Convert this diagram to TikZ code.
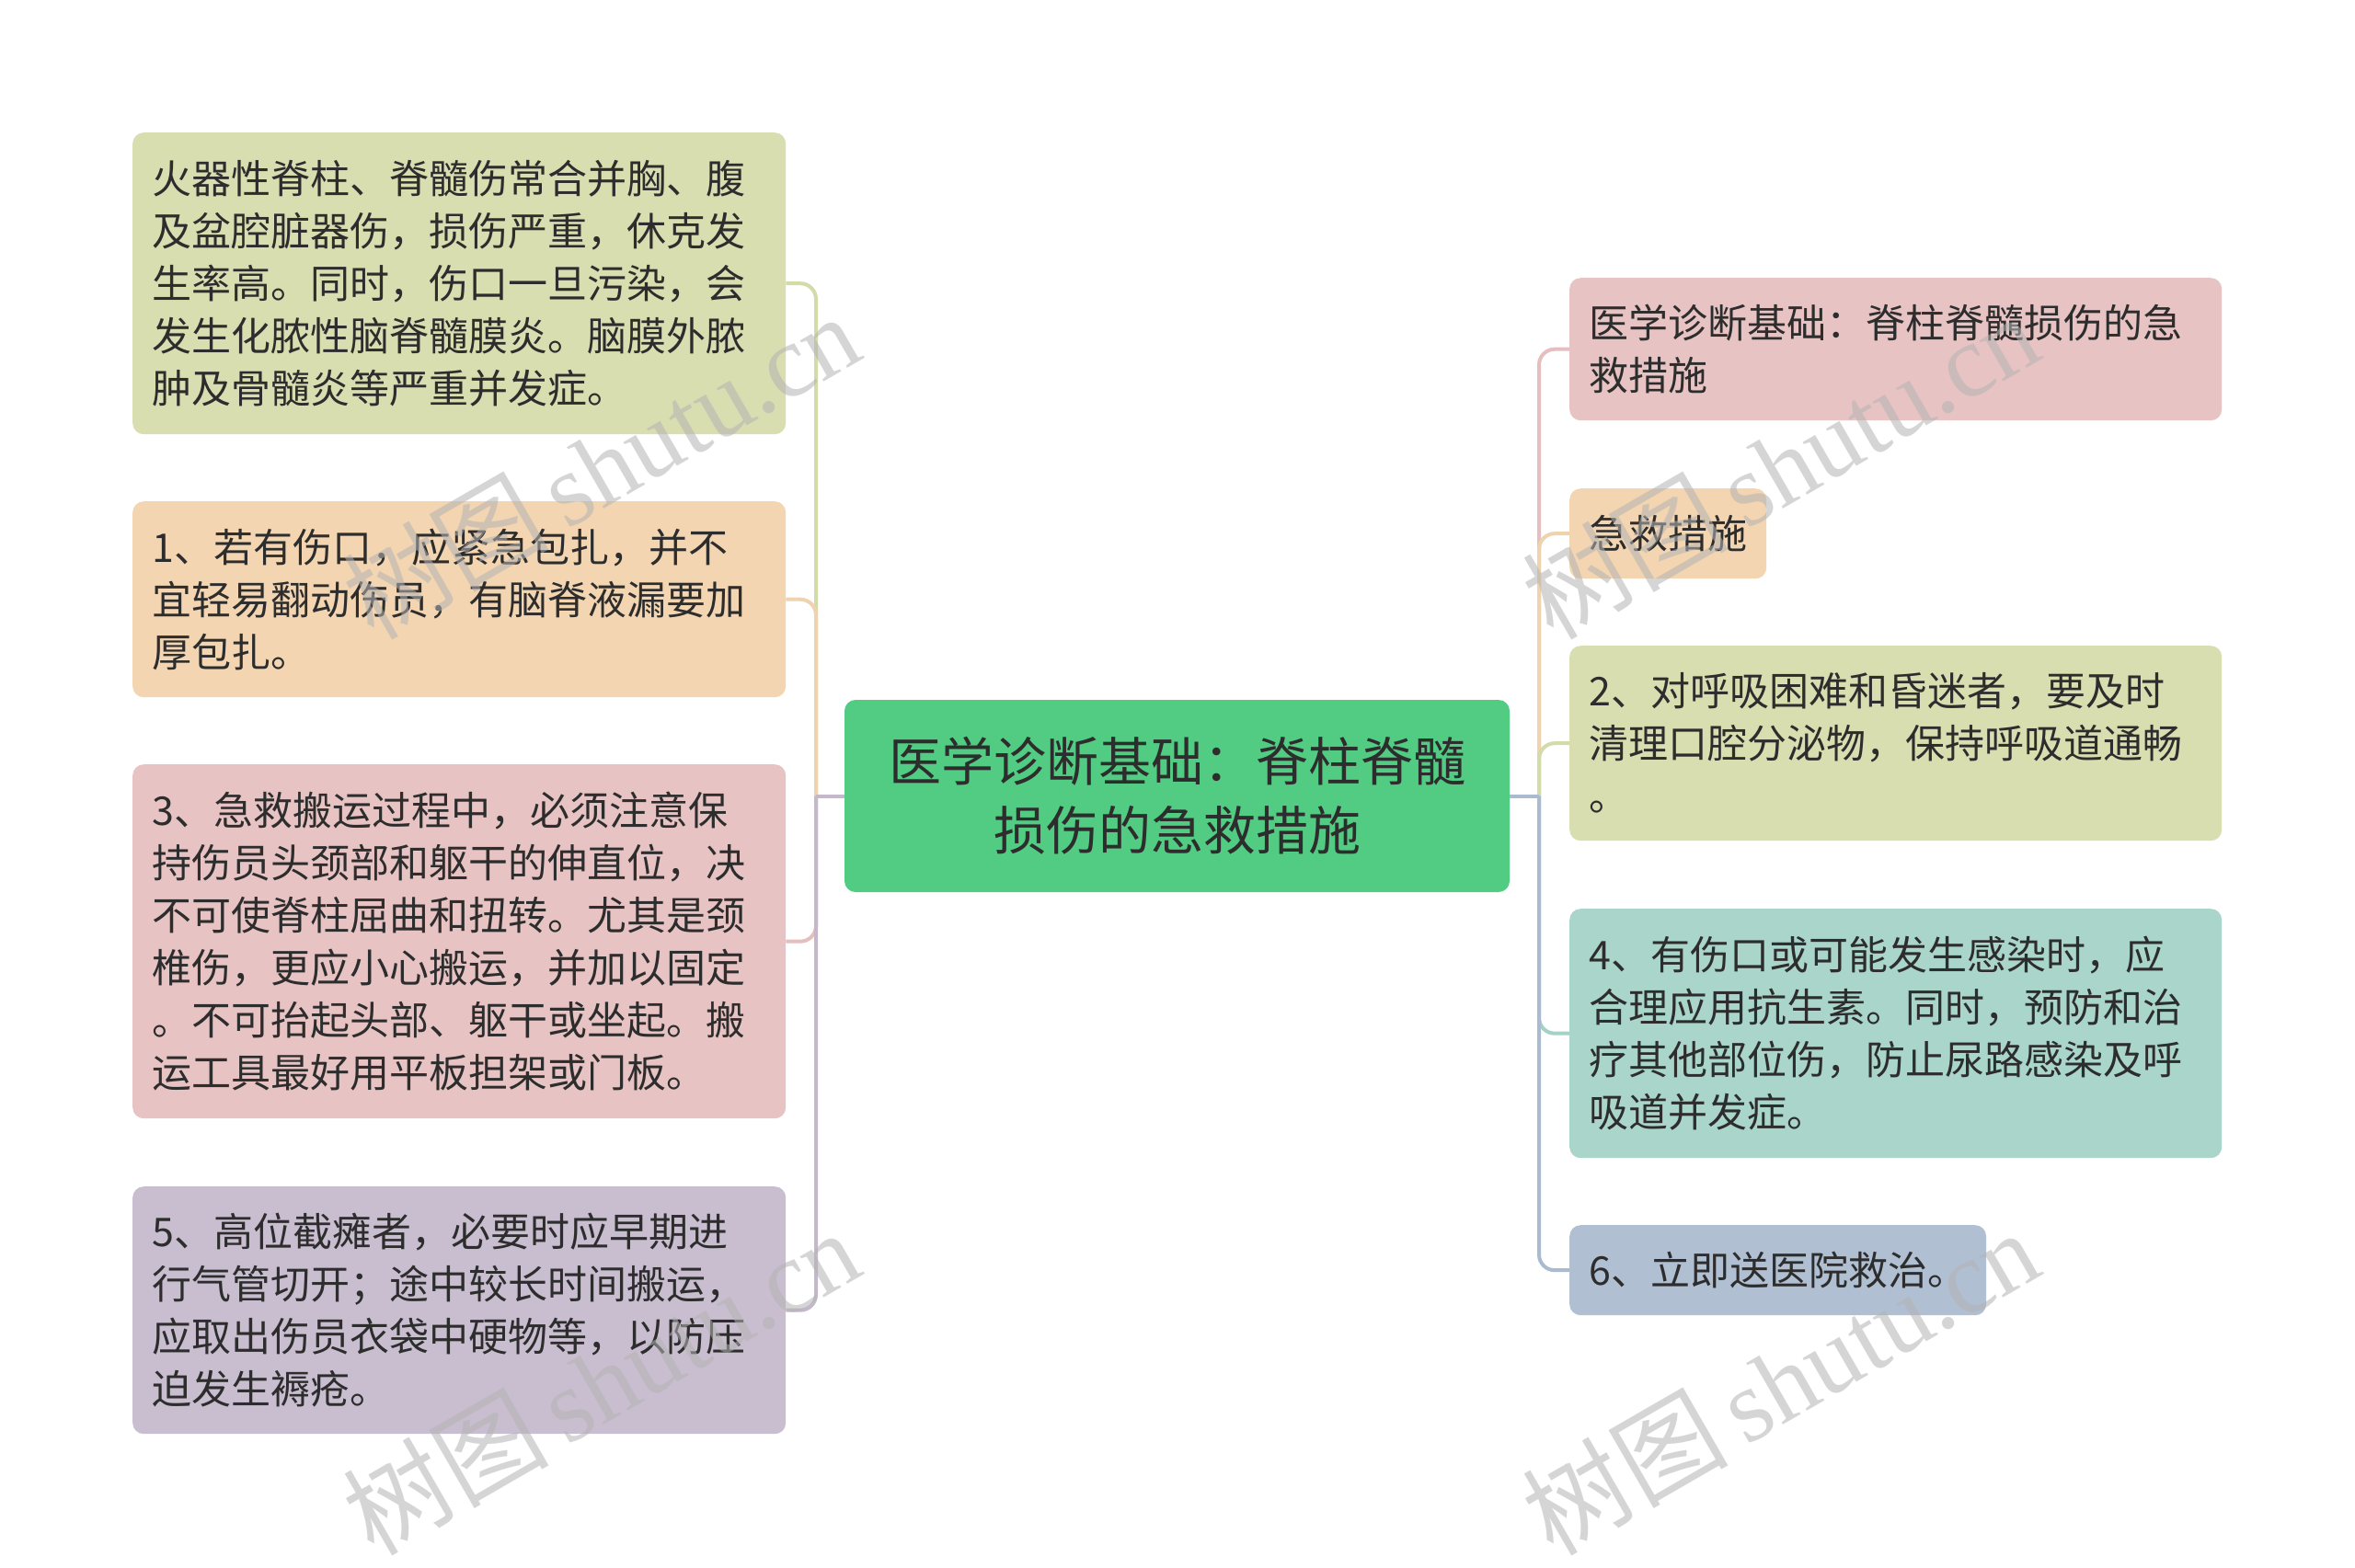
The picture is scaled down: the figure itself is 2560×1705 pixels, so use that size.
\documentclass[tikz,border=0pt]{standalone}
\usepackage{fontspec}
\newfontfamily\cjk{Noto Sans CJK SC}
\newfontfamily\wmserif{Liberation Serif}
\definecolor{olivef}{HTML}{D9DEB1}
\definecolor{olivel}{HTML}{D3DBA9}
\definecolor{peachf}{HTML}{F3D5B1}
\definecolor{peachl}{HTML}{EFD2AE}
\definecolor{pinkf}{HTML}{E8C3C3}
\definecolor{pinkl}{HTML}{E5BFC0}
\definecolor{lavf}{HTML}{C9BED0}
\definecolor{lavl}{HTML}{C4B8CB}
\definecolor{greenf}{HTML}{52CC82}
\definecolor{tealf}{HTML}{A9D5CB}
\definecolor{teall}{HTML}{A5D2C7}
\definecolor{bluef}{HTML}{B0BFD2}
\definecolor{bluel}{HTML}{ABBBCF}
\definecolor{txt}{HTML}{2D2D2D}
\definecolor{wmgray}{HTML}{B4B4B4}
\tikzset{
  box/.style={rounded corners=12pt, align=left, inner xsep=21pt, inner ysep=0pt,
    font=\cjk\fontsize{43}{57}\selectfont, text=txt, anchor=north west},
  rootbox/.style={rounded corners=12pt, align=center, inner xsep=21pt, inner ysep=0pt,
    font=\cjk\fontsize{57}{75}\selectfont, text=txt, fill=greenf,
    minimum width=723pt, minimum height=209pt, text width=681pt},
  conn/.style={line width=4pt},
  branch/.style={line width=4pt, rounded corners=17pt},
  wm/.style={text=wmgray, opacity=0.55, rotate=30, font=\fontsize{112}{112}\selectfont}
}
\begin{document}
\begin{tikzpicture}[x=1pt,y=-1pt]
\useasboundingbox (0,0) rectangle (2560,1705);
\fill[white] (0,0) rectangle (2560,1705);

% root
\node[rootbox] (root) at (1279.5,865.5) {医学诊断基础：脊柱脊髓\\损伤的急救措施};

% left children
\node[box, fill=olivef, text width=668pt, minimum height=328pt] (b1) at (144,144)
  {火器性脊柱、脊髓伤常合并胸、腹\\及盆腔脏器伤，损伤严重，休克发\\生率高。同时，伤口一旦污染，会\\发生化脓性脑脊髓膜炎。脑膜外脓\\肿及骨髓炎等严重并发症。};
\node[box, fill=peachf, text width=668pt, minimum height=213pt] (b2) at (144,545)
  {1、若有伤口，应紧急包扎，并不\\宜轻易翻动伤员，有脑脊液漏要加\\厚包扎。};
\node[box, fill=pinkf, text width=668pt, minimum height=385pt] (b3) at (144,831)
  {3、急救搬运过程中，必须注意保\\持伤员头颈部和躯干的伸直位，决\\不可使脊柱屈曲和扭转。尤其是颈\\椎伤，更应小心搬运，并加以固定\\。不可抬起头部、躯干或坐起。搬\\运工具最好用平板担架或门板。};
\node[box, fill=lavf, text width=668pt, minimum height=269pt] (b4) at (144,1290)
  {5、高位截瘫者，必要时应早期进\\行气管切开；途中较长时间搬运，\\应取出伤员衣袋中硬物等，以防压\\迫发生褥疮。};

% right children
\node[box, fill=pinkf, text width=667pt, minimum height=155pt] (r1) at (1706,302)
  {医学诊断基础：脊柱脊髓损伤的急\\救措施};
\node[box, fill=peachf, minimum height=98pt] (r2) at (1706,531)
  {急救措施};
\node[box, fill=olivef, text width=667pt, minimum height=212pt] (r3) at (1706,702)
  {2、对呼吸困难和昏迷者，要及时\\清理口腔分泌物，保持呼吸道通畅\\。};
\node[box, fill=tealf, text width=667pt, minimum height=271pt] (r4) at (1706,988)
  {4、有伤口或可能发生感染时，应\\合理应用抗生素。同时，预防和治\\疗其他部位伤，防止尿路感染及呼\\吸道并发症。};
\node[box, fill=bluef, minimum height=98pt] (r5) at (1706,1332)
  {6、立即送医院救治。};

% trunk points
\coordinate (lt) at (887,865.5);
\coordinate (rt) at (1673,865.5);

% left connectors
\draw[conn, olivel] (root.west) -- (lt);
\draw[branch, olivel] (lt) |- (b1.east);
\draw[conn, peachl] (root.west) -- (lt);
\draw[branch, peachl] (lt) |- (b2.east);
\draw[conn, pinkl] (root.west) -- (lt);
\draw[branch, pinkl] (lt) |- (b3.east);
\draw[conn, lavl] (root.west) -- (lt);
\draw[branch, lavl] (lt) |- (b4.east);

% right connectors
\draw[conn, pinkl] (root.east) -- (rt);
\draw[branch, pinkl] (rt) |- (r1.west);
\draw[conn, peachl] (root.east) -- (rt);
\draw[branch, peachl] (rt) |- (r2.west);
\draw[conn, olivel] (root.east) -- (rt);
\draw[branch, olivel] (rt) |- (r3.west);
\draw[conn, teall] (root.east) -- (rt);
\draw[branch, teall] (rt) |- (r4.west);
\draw[conn, bluel] (root.east) -- (rt);
\draw[branch, bluel] (rt) |- (r5.west);

% watermarks
\node[wm] (w1) at (653,506) {\cjk 树图\,\wmserif shutu.cn};
\node[wm] (w2) at (1935,506) {\cjk 树图\,\wmserif shutu.cn};
\node[wm] (w3) at (653,1502) {\cjk 树图\,\wmserif shutu.cn};
\node[wm] (w4) at (1935,1502) {\cjk 树图\,\wmserif shutu.cn};
\end{tikzpicture}
\end{document}
